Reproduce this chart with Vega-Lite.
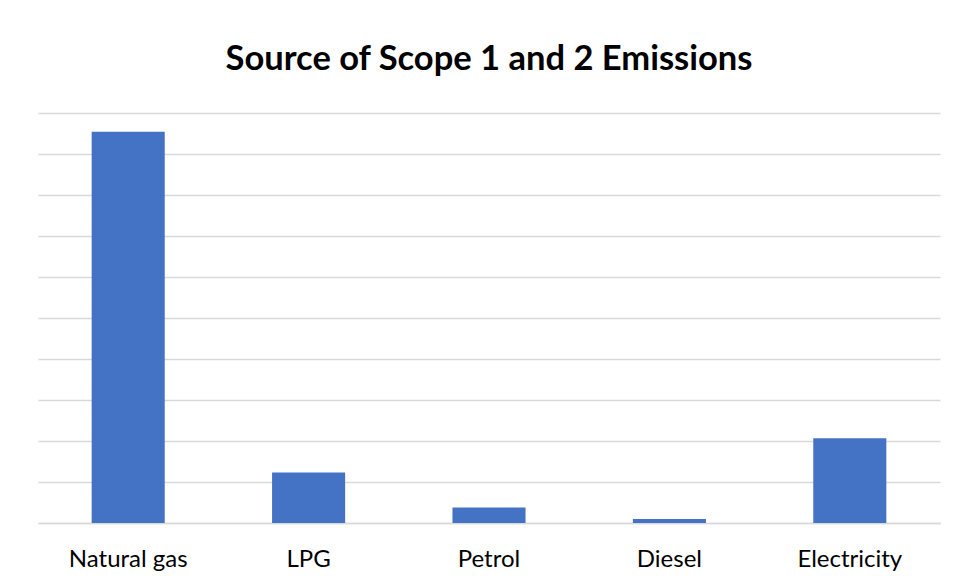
{
  "$schema": "https://vega.github.io/schema/vega-lite/v6.json",
  "autosize": "none",
  "width": 902,
  "height": 410,
  "padding": {"left": 38, "top": 113, "right": 15, "bottom": 60},
  "background": "white",
  "title": {
    "text": "Source of Scope 1 and 2 Emissions",
    "font": "Lato",
    "fontSize": 34.5,
    "fontWeight": "bold",
    "color": "#000000",
    "anchor": "middle",
    "baseline": "alphabetic",
    "offset": 9
  },
  "data": {
    "values": [
      {"source": "Natural gas", "value": 9.54},
      {"source": "LPG", "value": 1.23},
      {"source": "Petrol", "value": 0.38},
      {"source": "Diesel", "value": 0.1},
      {"source": "Electricity", "value": 2.07}
    ]
  },
  "mark": {"type": "bar", "color": "#4472C4"},
  "encoding": {
    "x": {
      "field": "source",
      "type": "nominal",
      "sort": null,
      "scale": {"paddingInner": 0.595, "paddingOuter": 0.2975},
      "axis": {
        "title": null,
        "labelAngle": 0,
        "labelFont": "Lato",
        "labelFontSize": 24,
        "labelColor": "#000000",
        "labelPadding": 24,
        "ticks": false,
        "domain": true,
        "domainColor": "#d9d9d9",
        "domainWidth": 1.5
      }
    },
    "y": {
      "field": "value",
      "type": "quantitative",
      "scale": {"domain": [0, 10]},
      "axis": {
        "title": null,
        "labels": false,
        "ticks": false,
        "domain": false,
        "values": [0, 1, 2, 3, 4, 5, 6, 7, 8, 9, 10],
        "grid": true,
        "gridColor": "#d9d9d9",
        "gridWidth": 1.5
      }
    }
  },
  "config": {"view": {"stroke": null}}
}
